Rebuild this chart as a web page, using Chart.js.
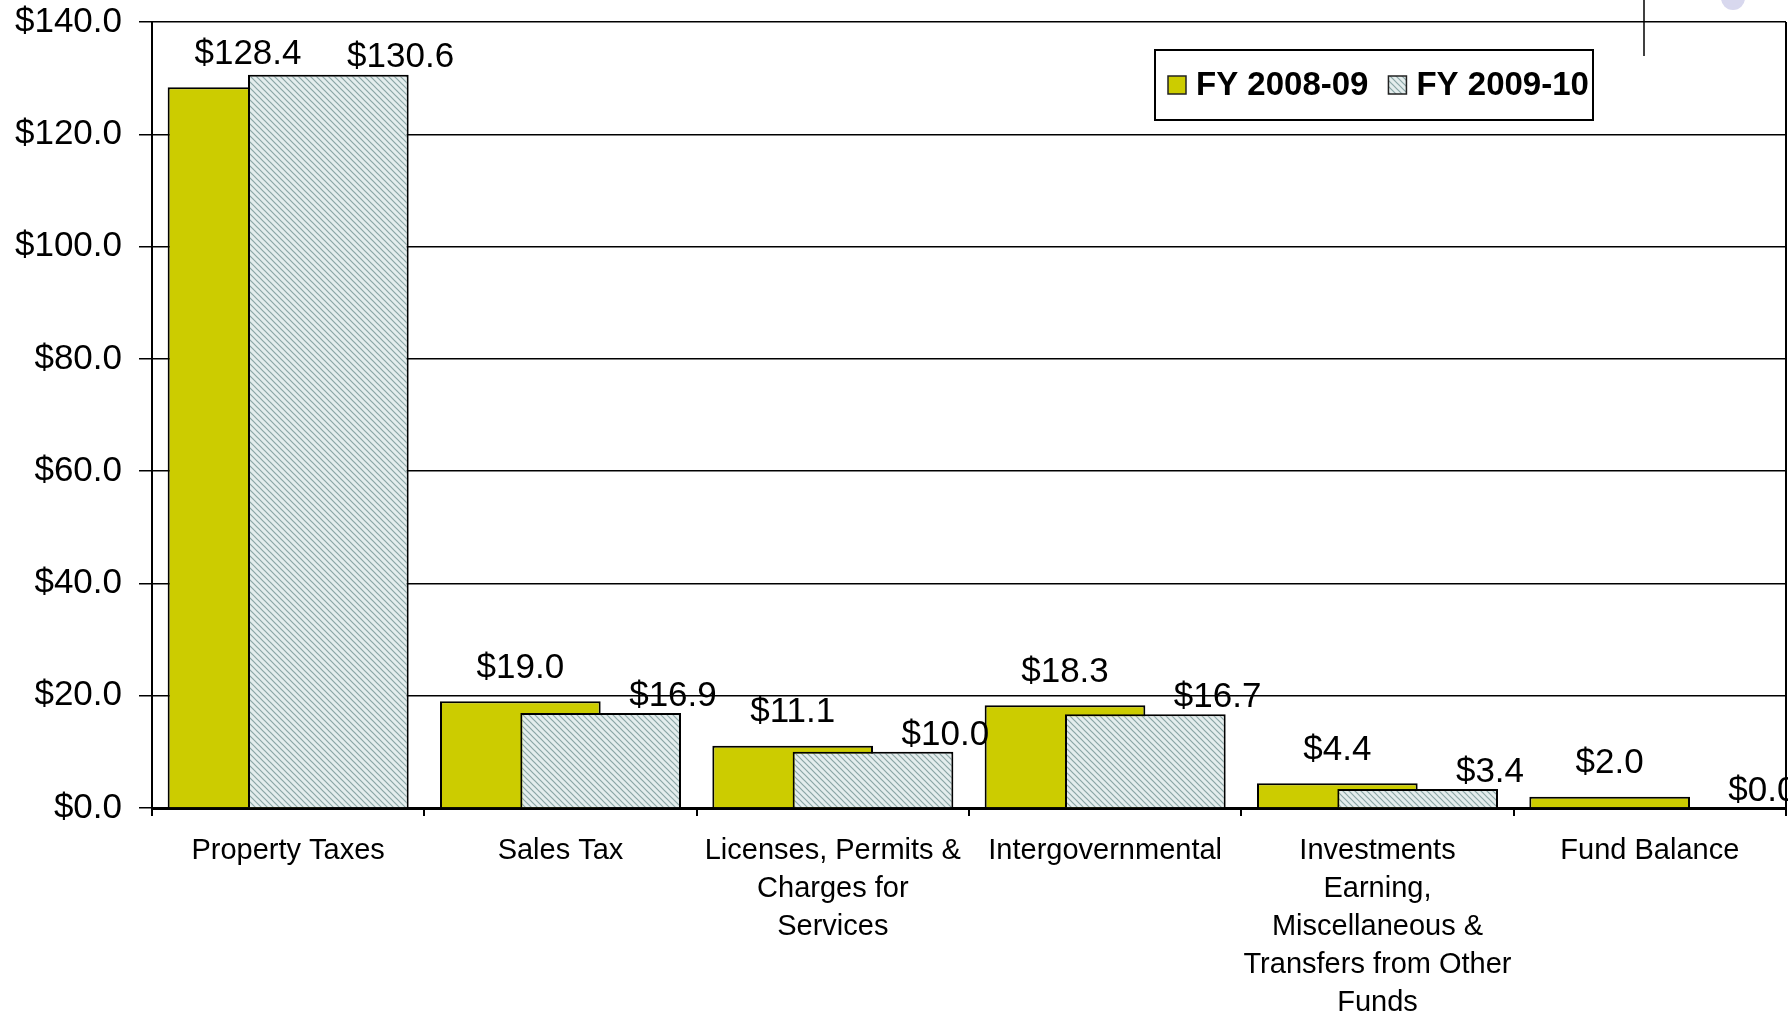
<!DOCTYPE html>
<html lang="en">
<head>
    <meta charset="UTF-8" />
    <title>Revenue by Source</title>
    <script src="https://cdn.jsdelivr.net/npm/chart.js"></script>
    <style>
        html, body { margin: 0; padding: 0; background: #fff; overflow: hidden; }
        #wrap { width: 1788px; height: 1013px; position: relative; }
    </style>
</head>
<body>
    <div id="wrap"><canvas id="revChart"></canvas></div>

    <script>
        const categories = [
            'Property Taxes',
            'Sales Tax',
            ['Licenses, Permits &', 'Charges for', 'Services'],
            'Intergovernmental',
            ['Investments', 'Earning,', 'Miscellaneous &', 'Transfers from Other', 'Funds'],
            'Fund Balance'
        ];
        const fy0809 = [128.4, 19.0, 11.1, 18.3, 4.4, 2.0];
        const fy0910 = [130.6, 16.9, 10.0, 16.7, 3.4, 0.0];
        const seriesNames = ['FY 2008-09', 'FY 2009-10'];
        const yTicks = [0, 20, 40, 60, 80, 100, 120, 140];

        const FONT = '"Liberation Sans", Arial, sans-serif';

        // diagonal hatch like the excel fill
        function makeHatch() {
            const c = document.createElement('canvas');
            c.width = 6; c.height = 6;
            const g = c.getContext('2d');
            g.fillStyle = '#e4eded';
            g.fillRect(0, 0, 6, 6);
            g.strokeStyle = '#8aa5a5';
            g.lineWidth = 1.2;
            g.beginPath();
            g.moveTo(-1, -1); g.lineTo(7, 7);
            g.moveTo(-1, 5); g.lineTo(1, 7);
            g.moveTo(5, -1); g.lineTo(7, 1);
            g.stroke();
            return g.createPattern(c, 'repeat');
        }
        const hatch = makeHatch();

        // yellow first underneath, hatched on top of it
        const drawOrder = {
            id: 'drawOrder',
            beforeDatasetDraw(chart, args) {
                if (args.index === 1) {
                    chart.getDatasetMeta(0).controller.draw();
                }
                if (args.index === 0) return false;
            }
        };

        const valueLabels = {
            id: 'valueLabels',
            afterDatasetsDraw(chart) {
                const ctx = chart.ctx;
                ctx.save();
                ctx.font = '35px ' + FONT;
                ctx.fillStyle = '#000';
                ctx.textBaseline = 'middle';
                ctx.textAlign = 'center';
                chart.data.datasets.forEach((ds, di) => {
                    const meta = chart.getDatasetMeta(di);
                    meta.data.forEach((bar, i) => {
                        const txt = '$' + ds.data[i].toFixed(1);
                        if (di === 0) {
                            ctx.fillText(txt, bar.x, bar.y - 33);
                        } else {
                            ctx.fillText(txt, bar.x + bar.width * 0.45, bar.y - 17);
                        }
                    });
                });
                ctx.restore();
            }
        };

        const frameAndLegend = {
            id: 'frameAndLegend',
            afterDraw(chart) {
                const ctx = chart.ctx;
                const a = chart.chartArea;
                ctx.save();
                // right edge of plot
                ctx.strokeStyle = '#000';
                ctx.lineWidth = 2;
                ctx.beginPath();
                ctx.moveTo(a.right, a.top);
                ctx.lineTo(a.right, a.bottom);
                ctx.stroke();

                // stray bits from the source slide
                ctx.lineWidth = 1.5;
                ctx.beginPath();
                ctx.moveTo(1644, 0);
                ctx.lineTo(1644, 56);
                ctx.stroke();
                ctx.fillStyle = '#d8d8ee';
                ctx.beginPath();
                ctx.arc(1733, -2, 12, 0, Math.PI * 2);
                ctx.fill();

                // legend box
                const bx = 1155, by = 50, bw = 438, bh = 70;
                ctx.fillStyle = '#fff';
                ctx.fillRect(bx, by, bw, bh);
                ctx.lineWidth = 2;
                ctx.strokeStyle = '#000';
                ctx.strokeRect(bx, by, bw, bh);

                ctx.font = 'bold 33px ' + FONT;
                ctx.textBaseline = 'middle';
                ctx.textAlign = 'left';
                let x = bx + 13;
                const cy = by + bh / 2;
                chart.data.datasets.forEach((ds) => {
                    ctx.fillStyle = ds.backgroundColor;
                    ctx.fillRect(x, cy - 9, 18, 18);
                    ctx.lineWidth = 1.5;
                    ctx.strokeStyle = '#222';
                    ctx.strokeRect(x, cy - 9, 18, 18);
                    ctx.fillStyle = '#000';
                    ctx.fillText(ds.label, x + 28, cy + 1);
                    x += 28 + ctx.measureText(ds.label).width + 20;
                });
                ctx.restore();
            }
        };

        const ctx = document.getElementById('revChart').getContext('2d');
        new Chart(ctx, {
            type: 'bar',
            data: {
                labels: categories,
                datasets: [{
                    label: seriesNames[0],
                    data: fy0809,
                    backgroundColor: '#cccc00',
                    borderColor: '#000',
                    borderWidth: 2,
                    barPercentage: 2,
                    categoryPercentage: 0.59
                }, {
                    label: seriesNames[1],
                    data: fy0910,
                    backgroundColor: hatch,
                    borderColor: '#000',
                    borderWidth: 2,
                    barPercentage: 2,
                    categoryPercentage: 0.59
                }]
            },
            options: {
                responsive: true,
                maintainAspectRatio: false,
                animation: false,
                layout: { padding: { top: 0, right: 2, left: 0, bottom: 0 } },
                plugins: {
                    legend: { display: false },
                    title: { display: false },
                    tooltip: { enabled: false }
                },
                scales: {
                    x: {
                        grid: {
                            offset: true,
                            drawOnChartArea: false,
                            color: '#000',
                            lineWidth: 2,
                            tickLength: 8
                        },
                        border: { color: '#000', width: 3 },
                        ticks: {
                            color: '#000',
                            padding: 16,
                            maxRotation: 0,
                            autoSkip: false,
                            font: { family: FONT, size: 29, lineHeight: 1.31 }
                        },
                        afterFit: (s) => { s.height = 205; }
                    },
                    y: {
                        min: 0,
                        max: 140,
                        afterBuildTicks: (s) => { s.ticks = yTicks.map(v => ({ value: v })); },
                        grid: {
                            color: '#000',
                            lineWidth: 1.5,
                            tickLength: 13
                        },
                        border: { color: '#000', width: 2 },
                        ticks: {
                            color: '#000',
                            padding: 17,
                            font: { family: FONT, size: 35 },
                            callback: (v) => '$' + Number(v).toFixed(1)
                        },
                        afterFit: (s) => {
                            s.width = 152;
                            s.paddingTop = 22;
                            s.paddingBottom = 0;
                        }
                    }
                }
            },
            plugins: [drawOrder, valueLabels, frameAndLegend]
        });
    </script>
</body>
</html>
